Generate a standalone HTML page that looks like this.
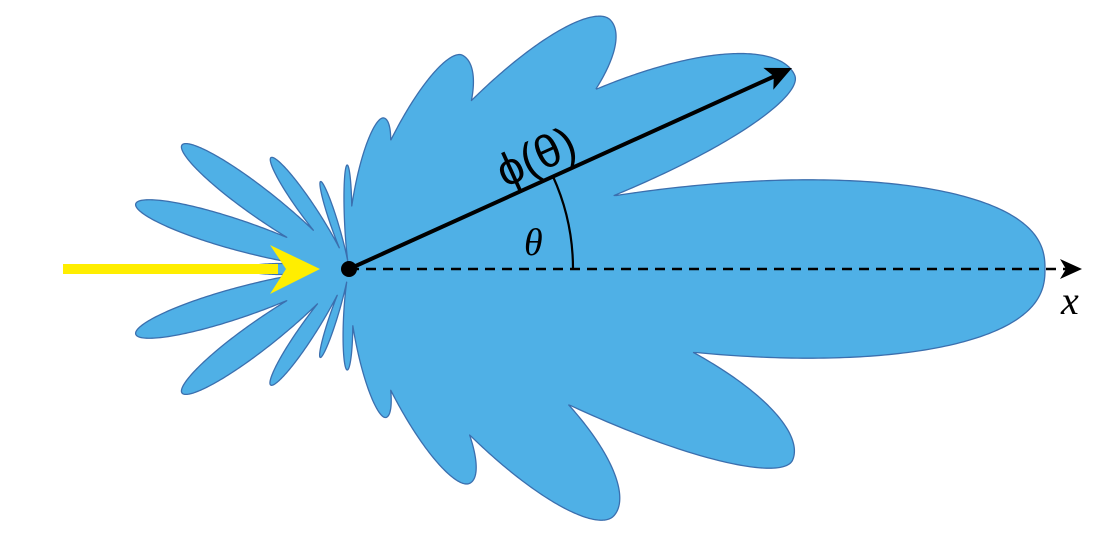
<!DOCTYPE html>
<html><head><meta charset="utf-8"><style>
html,body{margin:0;padding:0;background:#fff;}
svg{display:block;}
</style></head><body>
<svg id="chart" width="1109" height="535" viewBox="0 0 1109 535" xmlns="http://www.w3.org/2000/svg">
<path id="pattern" fill="#4fb0e6" stroke="#3b6fae" stroke-width="1.3" stroke-linejoin="round"></path>
<g id="overlay"></g>
</svg>
<script>
// lobe data: angle (deg, CCW from +x), radius (px), widths below/above (deg), shape exponent
const lobeAngles = [0, 23.5, 43.6, 62, 77, 91, 108, 125, 143.4, 163, 180, -163, -143.4, -124, -108, -91, -76, -60.5, -43, -23.3];
const lobeRadii  = [696, 486, 361, 242, 155, 104, 92, 136, 208, 223, 105, 223, 208, 140, 93, 101, 153, 246, 362, 483];
const lobeSigLo  = [15.9, 7.5, 13, 14.6, 9.5, 3.5, 4, 5.5, 6.5, 6.5, 5, 6.5, 6.5, 5.5, 4, 4.5, 7.2, 9.2, 10.3, 7.5];
const lobeSigHi  = [15.9, 13, 9.9, 9.3, 7.8, 3.5, 4, 5.5, 6.5, 6.5, 5, 6.5, 6.5, 5.5, 4, 4.5, 8.4, 10.8, 13.7, 12.3];
const lobePow    = [2.5, 2, 2, 2, 2, 2, 2, 2, 2, 2, 2, 2, 2, 2, 2, 2, 2, 2, 2, 2];

const cx = 349, cy = 269;
function px(a, r){ return cx + r*Math.cos(a*Math.PI/180); }
function py(a, r){ return cy - r*Math.sin(a*Math.PI/180); }
function angDiff(a,b){ let d=a-b; while(d>180)d-=360; while(d<-180)d+=360; return d; }
function radiusAt(a){
  let m = 0;
  for(let i=0;i<lobeAngles.length;i++){
    const d = angDiff(a, lobeAngles[i]);
    const s = d<0 ? lobeSigLo[i] : lobeSigHi[i];
    const p = lobePow[i];
    const v = p===2 ? lobeRadii[i]*Math.exp(-d*d/(2*s*s)) : lobeRadii[i]*Math.exp(-Math.pow(Math.abs(d)/s, p));
    if(v>m) m=v;
  }
  return m;
}
let d = '';
for(let k=0;k<=2880;k++){
  const a = -180 + k*360/2880;
  const r = radiusAt(a);
  d += (k? 'L':'M') + px(a,r).toFixed(2) + ',' + py(a,r).toFixed(2);
}
document.getElementById('pattern').setAttribute('d', d+'Z');

const NS='http://www.w3.org/2000/svg';
const g=document.getElementById('overlay');
function el(tag, attrs, text){
  const e=document.createElementNS(NS,tag);
  for(const k in attrs) e.setAttribute(k, attrs[k]);
  if(text!==undefined) e.textContent=text;
  g.appendChild(e); return e;
}
let e = el('line',{x1:cx,y1:cy,x2:1068,y2:cy,stroke:'#000','stroke-width':2.5,'stroke-dasharray':'10 7'});


e = el('path',{d:'M1082,269 L1060,259 L1066,269 L1060,279 Z',fill:'#000'});


e = el('text',{x:1061,y:314,'font-family':'"Liberation Serif", serif','font-style':'italic','font-size':40,fill:'#000'},'x');


const thetaDeg = 24.5, ra = 224;
e = el('path',{d:`M${px(0,ra)},${py(0,ra)} A${ra},${ra} 0 0 0 ${px(thetaDeg,ra)},${py(thetaDeg,ra)}`,fill:'none',stroke:'#000','stroke-width':2.2});


e = el('text',{x:524,y:255,'font-family':'"Liberation Serif", serif','font-style':'italic','font-size':38,fill:'#000'},'θ');


e = el('line',{x1:cx,y1:cy,x2:775,y2:76,stroke:'#000','stroke-width':4});


e = el('path',{d:'M0,0 L-26,-12 L-20,0 L-26,12 Z',fill:'#000',transform:'translate(792,68) rotate(-24.5)'});


e = el('text',{x:0,y:0,'font-family':'"Liberation Sans", sans-serif','font-size':46,fill:'#000',transform:'translate(505,188) rotate(-24.5)'},'ϕ(θ)');


e = el('rect',{x:63,y:264,width:215,height:10,fill:'#ffee00'});


e = el('path',{d:'M320,269 L270,245 L286,269 L270,294 Z',fill:'#ffee00'});


e = el('circle',{cx:cx,cy:cy,r:8,fill:'#000'});


</script>
</body></html>
